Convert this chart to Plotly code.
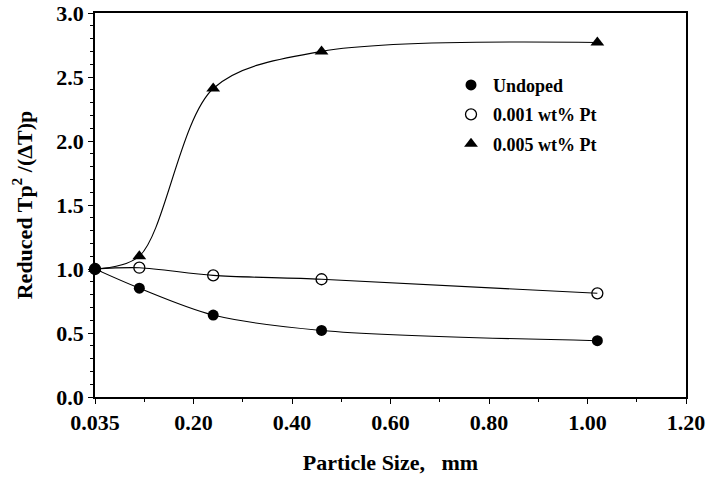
import plotly.graph_objects as go

# Data (x positions on the axis; 0.035 mm plotted at origin)
particle_size = [0.0, 0.09, 0.24, 0.46, 1.02]
undoped = [1.00, 0.85, 0.64, 0.52, 0.44]
pt_0001 = [1.00, 1.01, 0.95, 0.92, 0.81]
pt_0005 = [1.00, 1.10, 2.41, 2.70, 2.77]

x_tickvals = [0.0, 0.2, 0.4, 0.6, 0.8, 1.0, 1.2]
x_ticktext = ["0.035", "0.20", "0.40", "0.60", "0.80", "1.00", "1.20"]
y_tickvals = [0.0, 0.5, 1.0, 1.5, 2.0, 2.5, 3.0]
y_ticktext = ["0.0", "0.5", "1.0", "1.5", "2.0", "2.5", "3.0"]

series = [
    ("Undoped", undoped, dict(symbol="circle", size=11, color="black")),
    ("0.001 wt% Pt", pt_0001, dict(symbol="circle-open", size=11, color="black", line=dict(width=1.3, color="black"))),
    ("0.005 wt% Pt", pt_0005, dict(symbol="triangle-up", size=12, color="black")),
]

FONT = "Liberation Serif, Times New Roman, Times, serif"

fig = go.Figure()
for i, (name, ys, mk) in enumerate(series):
    fig.add_trace(go.Scatter(
        x=particle_size, y=ys, mode="lines+markers",
        line=dict(color="black", width=1.1, shape="spline", smoothing=0.9),
        marker=mk, showlegend=False, cliponaxis=False,
    ))
for i, (name, ys, mk) in enumerate(series):
    fig.add_trace(go.Scatter(
        x=[None], y=[None], mode="markers", marker=mk, name=name,
        legendgroup=f"g{i}", showlegend=True,
    ))

fig.update_layout(
    width=714, height=477,
    margin=dict(l=95, r=28, t=13, b=80),
    paper_bgcolor="white", plot_bgcolor="white",
    font=dict(family=FONT, color="black"),
    legend=dict(
        x=0.599, y=0.86, xanchor="left", yanchor="top",
        font=dict(family=FONT, size=18, color="black", weight="bold"),
        bgcolor="rgba(0,0,0,0)", tracegroupgap=3, traceorder="grouped",
        itemwidth=34,
    ),
    xaxis=dict(
        range=[0, 1.2], tickvals=x_tickvals, ticktext=x_ticktext,
        showgrid=False, zeroline=False, automargin=False,
        showline=True, linecolor="black", linewidth=1.5, mirror=True,
        ticks="outside", ticklen=5, tickwidth=1.2, tickcolor="black",
        ticklabelstandoff=0,
        minor=dict(dtick=0.1, ticks="outside", ticklen=3, tickcolor="black"),
        tickfont=dict(family=FONT, size=22, color="black", weight="bold"),
        title=dict(text="Particle Size,&nbsp;&nbsp; mm", standoff=20,
                   font=dict(family=FONT, size=22, color="black", weight="bold")),
    ),
    yaxis=dict(
        range=[0, 3.0], tickvals=y_tickvals, ticktext=y_ticktext,
        showgrid=False, zeroline=False, automargin=False,
        showline=True, linecolor="black", linewidth=1.5, mirror=True,
        ticks="outside", ticklen=5, tickwidth=1.2, tickcolor="black",
        minor=dict(dtick=0.1, ticks="outside", ticklen=3, tickcolor="black"),
        tickfont=dict(family=FONT, size=22, color="black", weight="bold"),
        title=dict(text="Reduced Tp<sup>2</sup> /(ΔT)p", standoff=18,
                   font=dict(family=FONT, size=22, color="black", weight="bold")),
    ),
)

fig.write_html("out.html")
